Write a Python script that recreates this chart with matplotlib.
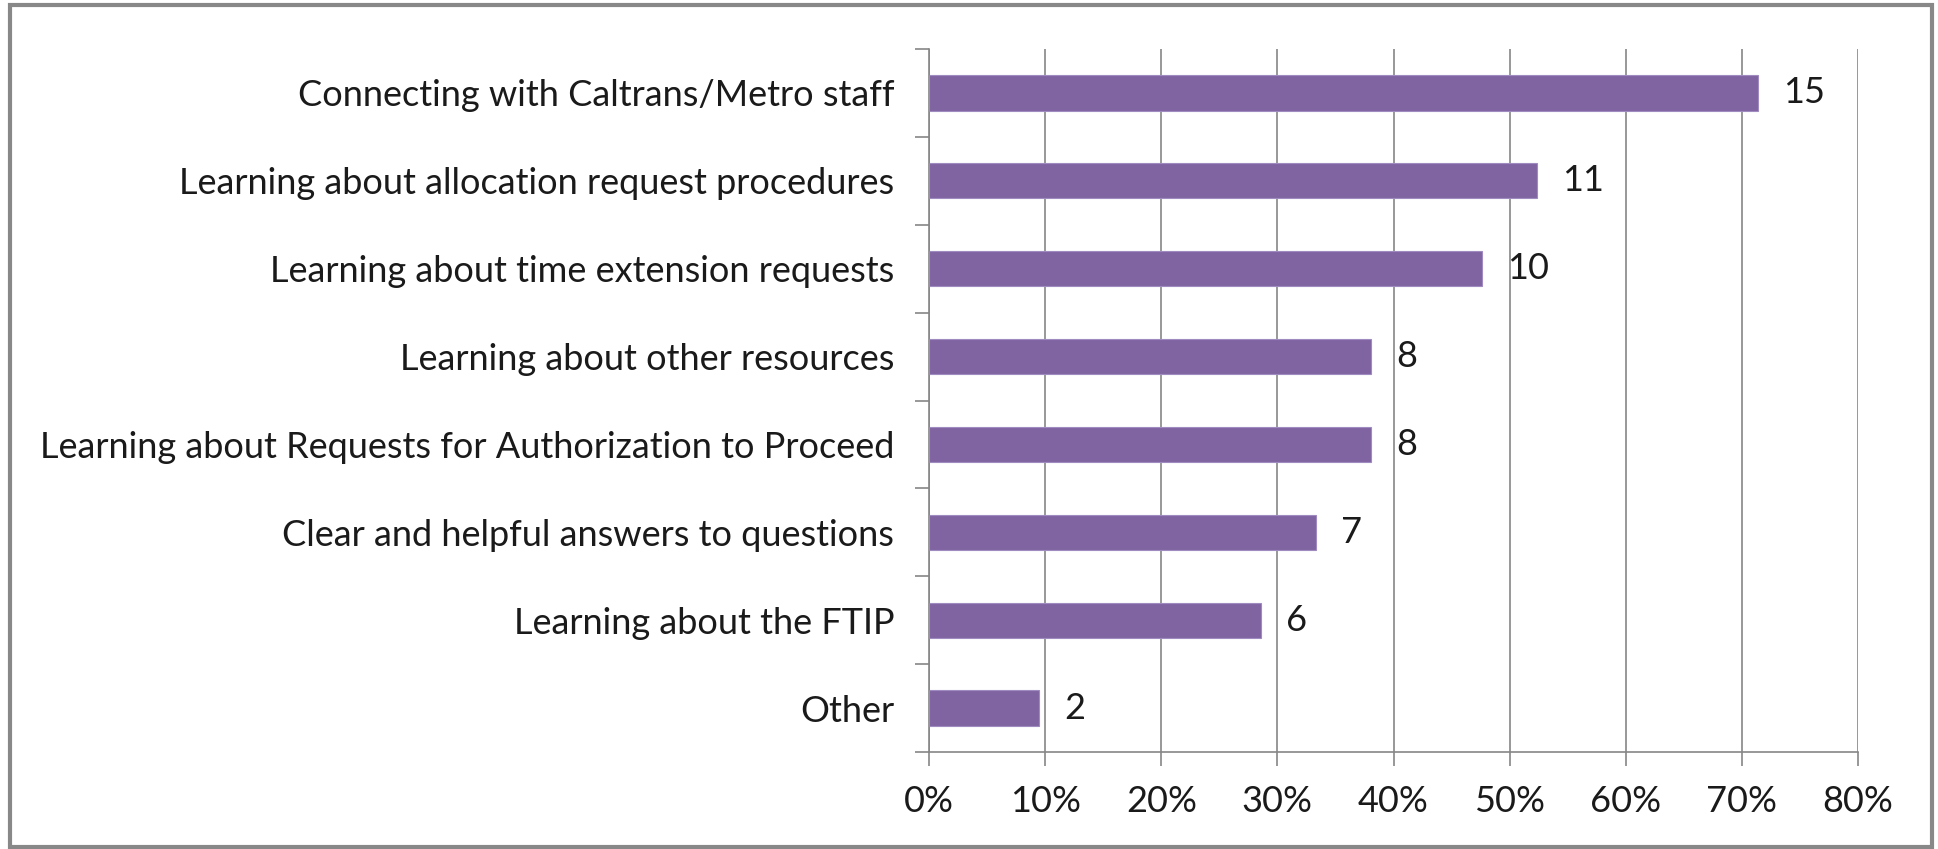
import matplotlib.pyplot as plt
from matplotlib.patches import Rectangle

categories = [
    "Connecting with Caltrans/Metro staff",
    "Learning about allocation request procedures",
    "Learning about time extension requests",
    "Learning about other resources",
    "Learning about Requests for Authorization to Proceed",
    "Clear and helpful answers to questions",
    "Learning about the FTIP",
    "Other",
]
percent = [71.4, 52.4, 47.6, 38.1, 38.1, 33.3, 28.6, 9.5]
counts = [15, 11, 10, 8, 8, 7, 6, 2]
xticks = [0, 10, 20, 30, 40, 50, 60, 70, 80]

plt.rcParams["font.family"] = ["Lato", "DejaVu Sans"]
gray = "#868686"
fs = 26

fig = plt.figure(figsize=(19.38, 8.49), dpi=100)
ax = fig.add_axes([929 / 1938, 1 - 752 / 849, (1858 - 929) / 1938, (752 - 49) / 849])

ypos = list(range(len(categories)))[::-1]
ax.barh(ypos, percent, height=0.4, color="#8064A2", edgecolor="#A08BC0",
        linewidth=0.8, zorder=3)
for y, p, c in zip(ypos, percent, counts):
    ax.annotate(str(c), (p, y), xytext=(18, 0), textcoords="offset points",
                va="center", ha="left", fontsize=fs, color="#1a1a1a")

ax.set_xlim(0, 80)
ax.set_ylim(-0.5, len(categories) - 0.5)
ax.set_xticks(xticks)
ax.set_xticklabels([f"{t}%" for t in xticks], fontsize=fs, color="#1a1a1a")
ax.set_yticks(ypos)
ax.set_yticklabels(categories, fontsize=fs, color="#1a1a1a")
ax.tick_params(axis="y", length=0, pad=25)
ax.set_yticks([i - 0.5 for i in range(len(categories) + 1)], minor=True)
ax.tick_params(axis="y", which="minor", length=10, color=gray, width=1.2)
ax.tick_params(axis="x", length=10, color=gray, width=1.2, pad=14)
ax.grid(axis="x", color=gray, linewidth=1.2, zorder=0)

for side in ["top", "right"]:
    ax.spines[side].set_visible(False)
for side in ["left", "bottom"]:
    ax.spines[side].set_color(gray)
    ax.spines[side].set_linewidth(1.2)

fig.patches.append(Rectangle((10 / 1938, 2 / 849), 1922 / 1938, 842 / 849,
                             transform=fig.transFigure, fill=False,
                             edgecolor="#888888", linewidth=3))

fig.savefig("out.png", dpi=100)
